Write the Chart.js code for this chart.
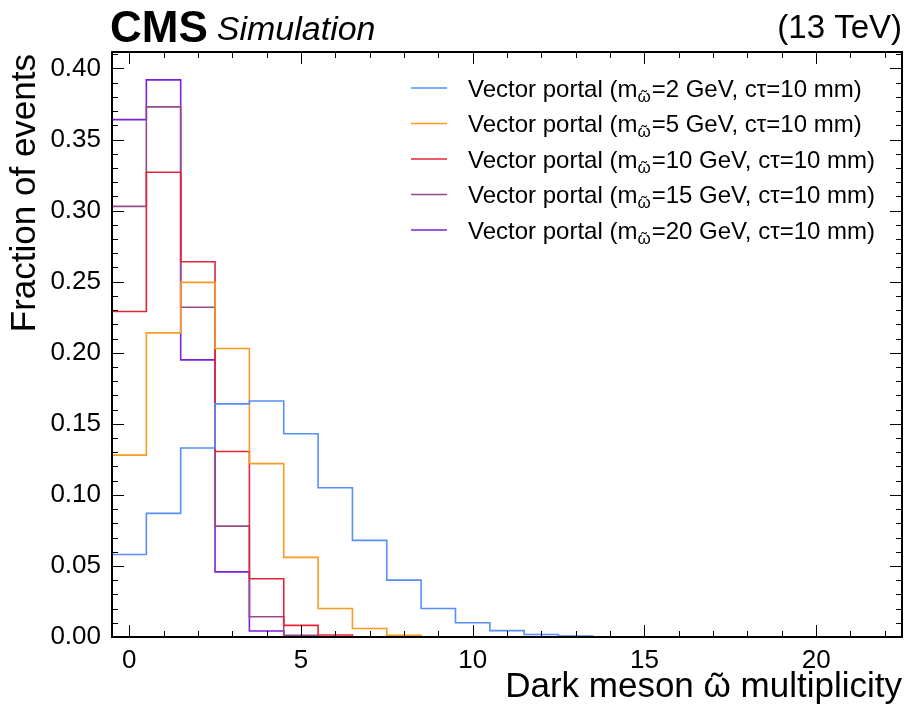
<!DOCTYPE html>
<html>
<head>
<meta charset="utf-8">
<title>Dark meson multiplicity</title>
<script src="https://cdn.jsdelivr.net/npm/chart.js@4/dist/chart.umd.min.js"></script>
<style>
    html, body { margin: 0; padding: 0; background: #fff; }
    #wrap { width: 904px; height: 710px; }
</style>
</head>
<body>
<div id="wrap"><canvas id="chart" width="904" height="710"></canvas></div>
<script>
// multiplicity bins 0..22 (unit width), fraction of events per bin
const binCenters = [0, 1, 2, 3, 4, 5, 6, 7, 8, 9, 10, 11, 12, 13, 14, 15, 16, 17, 18, 19, 20, 21, 22];

const portal2GeV  = [0.058, 0.087, 0.133, 0.164, 0.166, 0.143, 0.105, 0.068, 0.040, 0.020, 0.010, 0.0045, 0.0018, 0.0007, 0, 0, 0, 0, 0, 0, 0, 0, 0];
const portal5GeV  = [0.128, 0.214, 0.2495, 0.203, 0.122, 0.056, 0.020, 0.006, 0.0012, 0, 0, 0, 0, 0, 0, 0, 0, 0, 0, 0, 0, 0, 0];
const portal10GeV = [0.229, 0.327, 0.264, 0.1305, 0.041, 0.0082, 0.0014, 0.0002, 0, 0, 0, 0, 0, 0, 0, 0, 0, 0, 0, 0, 0, 0, 0];
const portal15GeV = [0.303, 0.373, 0.232, 0.078, 0.0143, 0.0012, 0.0001, 0, 0, 0, 0, 0, 0, 0, 0, 0, 0, 0, 0, 0, 0, 0, 0];
const portal20GeV = [0.364, 0.392, 0.195, 0.0458, 0.0042, 0.0004, 0, 0, 0, 0, 0, 0, 0, 0, 0, 0, 0, 0, 0, 0, 0, 0, 0];

const massLabels = ['2', '5', '10', '15', '20'];
const seriesColors = ['#5790fc', '#f89c20', '#e42536', '#964a8b', '#7a21dd'];

const xTicks = [0, 5, 10, 15, 20];
const yTicks = [0, 0.05, 0.10, 0.15, 0.20, 0.25, 0.30, 0.35, 0.40];

const FONT = '"Liberation Sans", Arial, Helvetica, sans-serif';
const Y_MAX = 0.4116;

// step outline: start at left edge, one point per bin edge, drop to zero at the end
function histPoints(values) {
    const pts = [{ x: binCenters[0] - 0.5, y: 0 }];
    values.forEach((v, i) => pts.push({ x: binCenters[i] - 0.5, y: v }));
    const last = binCenters[binCenters.length - 1] + 0.5;
    pts.push({ x: last, y: values[values.length - 1] });
    pts.push({ x: last, y: 0 });
    return pts;
}

const allSeries = [portal2GeV, portal5GeV, portal10GeV, portal15GeV, portal20GeV];

const datasets = allSeries.map((vals, i) => ({
    label: 'Vector portal (m=' + massLabels[i] + ' GeV, cτ=10 mm)',
    data: histPoints(vals),
    borderColor: seriesColors[i],
    borderWidth: 1.6,
    pointRadius: 0,
    fill: false,
    stepped: 'before',
    tension: 0
}));

// omega with a tilde on top (the combining mark doesn't render well on canvas)
function drawOmegaTilde(ctx, x, base, size) {
    ctx.font = size + 'px ' + FONT;
    const wOm = ctx.measureText('\u03c9').width;
    ctx.fillText('\u03c9', x, base);
    const wTi = ctx.measureText('\u02dc').width;
    ctx.fillText('\u02dc', x + (wOm - wTi) / 2, base + size * 0.02);
    return wOm;
}

// inward ticks on all four sides plus the frame, drawn over the histograms
const frameAndTicks = {
    id: 'frameAndTicks',
    afterDatasetsDraw(chart) {
        const { ctx, chartArea: a, scales: { x, y } } = chart;
        ctx.save();
        ctx.strokeStyle = '#000';
        ctx.lineWidth = 1;
        ctx.beginPath();
        for (let v = 0; v <= 22; v++) {
            const px = Math.round(x.getPixelForValue(v)) + 0.5;
            const len = v % 5 === 0 ? 12 : 6;
            ctx.moveTo(px, a.bottom); ctx.lineTo(px, a.bottom - len);
            ctx.moveTo(px, a.top); ctx.lineTo(px, a.top + len);
        }
        for (let k = 0; k <= 41; k++) {
            const py = Math.round(y.getPixelForValue(k / 100)) + 0.5;
            const len = k % 5 === 0 ? 12 : 6;
            ctx.moveTo(a.left, py); ctx.lineTo(a.left + len, py);
            ctx.moveTo(a.right, py); ctx.lineTo(a.right - len, py);
        }
        ctx.stroke();
        ctx.lineWidth = 2;
        ctx.strokeRect(a.left, a.top, a.right - a.left, a.bottom - a.top);
        ctx.restore();
    }
};

// CMS header, axis titles and the legend (needs a subscript, so drawn by hand)
const labelsPlugin = {
    id: 'labelsPlugin',
    afterDraw(chart) {
        const { ctx, chartArea: a } = chart;
        ctx.save();
        ctx.fillStyle = '#000';
        ctx.textBaseline = 'alphabetic';

        ctx.textAlign = 'left';
        ctx.font = 'bold 44px ' + FONT;
        ctx.fillText('CMS', a.left - 2, 42);
        const cmsW = ctx.measureText('CMS').width;
        ctx.font = 'italic 34px ' + FONT;
        ctx.fillText('Simulation', a.left - 2 + cmsW + 9, 40);

        ctx.textAlign = 'right';
        ctx.font = '33px ' + FONT;
        ctx.fillText('(13 TeV)', a.right, 38);

        // x title, built left to right so the omega tilde can be placed
        const titleSize = 35;
        ctx.textAlign = 'left';
        ctx.font = titleSize + 'px ' + FONT;
        const left = 'Dark meson ';
        const right = ' multiplicity';
        const wL = ctx.measureText(left).width;
        const wR = ctx.measureText(right).width;
        const wOm = ctx.measureText('\u03c9').width;
        let tx = a.right - wL - wOm - wR;
        ctx.fillText(left, tx, 697);
        tx += wL;
        tx += drawOmegaTilde(ctx, tx, 697, titleSize);
        ctx.font = titleSize + 'px ' + FONT;
        ctx.fillText(right, tx, 697);

        ctx.save();
        ctx.translate(35, a.top + 2);
        ctx.rotate(-Math.PI / 2);
        ctx.textAlign = 'right';
        ctx.fillText('Fraction of events', 0, 0);
        ctx.restore();

        // legend
        ctx.textAlign = 'left';
        massLabels.forEach((m, i) => {
            const cy = 88 + i * 35.5;
            ctx.strokeStyle = seriesColors[i];
            ctx.lineWidth = 1.6;
            ctx.beginPath();
            ctx.moveTo(411, cy); ctx.lineTo(447, cy);
            ctx.stroke();

            let lx = 468;
            const base = cy + 8.5;
            ctx.font = '24px ' + FONT;
            const p1 = 'Vector portal (m';
            ctx.fillText(p1, lx, base);
            lx += ctx.measureText(p1).width;
            lx += drawOmegaTilde(ctx, lx, base + 5, 17) + 1;
            ctx.font = '24px ' + FONT;
            ctx.fillText('=' + m + ' GeV, c\u03c4=10 mm)', lx, base);
        });
        ctx.restore();
    }
};

const chart = new Chart(document.getElementById('chart').getContext('2d'), {
    type: 'line',
    data: { datasets },
    options: {
        responsive: false,
        animation: false,
        devicePixelRatio: 1,
        layout: { padding: { left: 0, top: 52, right: 2, bottom: 0 } },
        plugins: {
            legend: { display: false },
            tooltip: { enabled: false }
        },
        scales: {
            x: {
                type: 'linear',
                min: -0.5,
                max: 22.5,
                grid: { display: false, drawTicks: false },
                border: { display: false },
                afterBuildTicks: (scale) => { scale.ticks = xTicks.map(v => ({ value: v })); },
                afterFit: (scale) => { scale.height = 73; },
                ticks: {
                    padding: 8,
                    color: '#000',
                    font: { family: FONT, size: 26 },
                    callback: (v) => String(v)
                }
            },
            y: {
                type: 'linear',
                min: 0,
                max: Y_MAX,
                grid: { display: false, drawTicks: false },
                border: { display: false },
                afterBuildTicks: (scale) => { scale.ticks = yTicks.map(v => ({ value: v })); },
                afterFit: (scale) => { scale.width = 112; },
                ticks: {
                    padding: 11,
                    color: '#000',
                    font: { family: FONT, size: 26 },
                    callback: (v) => Number(v).toFixed(2)
                }
            }
        }
    },
    plugins: [frameAndTicks, labelsPlugin]
});
</script>
</body>
</html>
